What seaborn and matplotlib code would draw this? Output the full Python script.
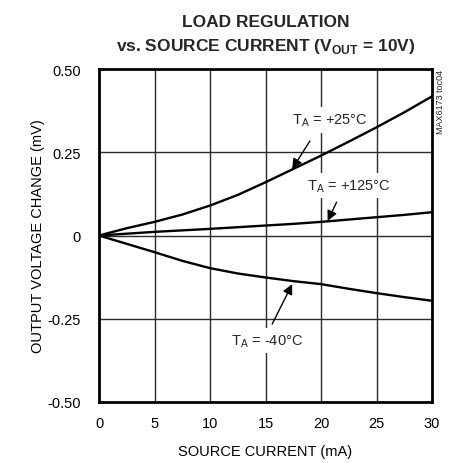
import matplotlib
matplotlib.use('Agg')
import matplotlib.pyplot as plt
import numpy as np
import pandas as pd
import seaborn as sns

# values
current_ma = [0, 2.5, 5, 7.5, 10, 12.5, 15, 17.5, 20, 22.5, 25, 27.5, 30]
dv_25c = [0, 0.022, 0.041, 0.063, 0.09, 0.122, 0.16, 0.2, 0.24, 0.282, 0.325, 0.37, 0.418]
dv_125c = [0, 0.0055, 0.011, 0.0155, 0.02, 0.025, 0.03, 0.035, 0.041, 0.048, 0.055, 0.062, 0.07]
dv_m40c = [0, -0.025, -0.05, -0.076, -0.098, -0.114, -0.126, -0.137, -0.146, -0.16, -0.173, -0.185, -0.196]
temps = ['+25', '+125', '-40']
x_ticks = [0, 5, 10, 15, 20, 25, 30]
y_ticks = [-0.50, -0.25, 0, 0.25, 0.50]
y_tick_labels = ['-0.50', '-0.25', '0', '0.25', '0.50']

df = pd.DataFrame({
    'current': current_ma * 3,
    'dv': dv_25c + dv_125c + dv_m40c,
    'temp': [t for t in temps for _ in current_ma],
})

sns.set_theme(style='white')
plt.rcParams['font.family'] = ['Liberation Sans', 'DejaVu Sans']
plt.rcParams['mathtext.fontset'] = 'custom'
plt.rcParams['mathtext.rm'] = 'Liberation Sans'
plt.rcParams['mathtext.bf'] = 'Liberation Sans:bold'

fig = plt.figure(figsize=(4.55, 4.64), dpi=100)
ax = fig.add_axes([0.2176, 0.1315, 0.7319, 0.7175])

sns.lineplot(data=df, x='current', y='dv', hue='temp', palette=['black'] * 3,
             linewidth=1.7, legend=False, ax=ax, zorder=4)

ax.set_xlim(0, 30)
ax.set_ylim(-0.5, 0.5)
ax.set_xticks(x_ticks)
ax.set_yticks(y_ticks)
ax.set_yticklabels(y_tick_labels)
ax.tick_params(axis='both', length=0, labelsize=10.5, colors='black')
ax.tick_params(axis='x', pad=10)
ax.tick_params(axis='y', pad=13)
ax.grid(True, color='#2a2a2a', linewidth=1.0, zorder=1)
ax.set_axisbelow(True)
for s in ax.spines.values():
    s.set_color('black')
    s.set_linewidth(2.0)
    s.set_zorder(5)

ax.set_xlabel('SOURCE CURRENT (mA)', fontsize=10.5, color='black', labelpad=10)
ax.set_ylabel('OUTPUT VOLTAGE CHANGE (mV)', fontsize=10.5, color='black', labelpad=2)

fig.text(0.585, 0.968, 'LOAD REGULATION', ha='center', va='top',
         fontsize=12.5, fontweight='bold')
fig.text(0.585, 0.921, r'vs. SOURCE CURRENT (V$_{\mathbf{OUT}}$ = 10V)', ha='center', va='top',
         fontsize=12.5, fontweight='bold')
fig.text(0.969, 0.849, 'MAX6173 toc04', rotation=90, ha='center', va='top', fontsize=6.5)

# curve labels with arrows (text boxes hide the grid, not the curves)
box = dict(facecolor='white', edgecolor='none', pad=3)
arrow = dict(arrowstyle='-|>', color='black', lw=1.0, mutation_scale=15, shrinkA=0, shrinkB=0)
ax.text(20.8, 0.347, r'T$_\mathregular{A}$ = +25°C', ha='center', va='center',
        fontsize=10.5, bbox=box, zorder=2)
ax.annotate('', xy=(17.4, 0.2), xytext=(19.0, 0.284), arrowprops=arrow, zorder=4)
ax.text(22.5, 0.15, r'T$_\mathregular{A}$ = +125°C', ha='center', va='center',
        fontsize=10.5, bbox=box, zorder=2)
ax.annotate('', xy=(20.6, 0.044), xytext=(21.4, 0.1), arrowprops=arrow, zorder=4)
ax.text(15.1, -0.316, r'T$_\mathregular{A}$ = -40°C', ha='center', va='center',
        fontsize=10.5, bbox=box, zorder=2)
ax.annotate('', xy=(17.4, -0.146), xytext=(15.6, -0.266), arrowprops=arrow, zorder=4)

fig.savefig('out.png', dpi=100)
